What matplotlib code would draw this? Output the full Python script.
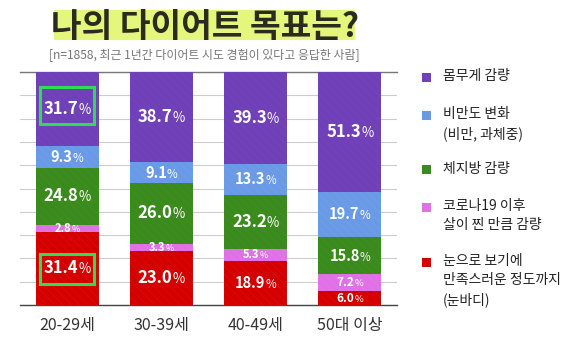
import matplotlib
matplotlib.use("Agg")
import matplotlib.pyplot as plt
import numpy as np
from matplotlib.offsetbox import TextArea, HPacker, AnnotationBbox
from matplotlib.patches import Rectangle

plt.rcParams['font.family'] = ['Noto Sans CJK KR', 'DejaVu Sans']
plt.rcParams['hatch.linewidth'] = 0.5

categories = ["20-29세", "30-39세", "40-49세", "50대 이상"]
red_vals = [31.4, 23.0, 18.9, 6.0]
pink_vals = [2.8, 3.3, 5.3, 7.2]
green_vals = [24.8, 26.0, 23.2, 15.8]
blue_vals = [9.3, 9.1, 13.3, 19.7]
purple_vals = [31.7, 38.7, 39.3, 51.3]

series = [red_vals, pink_vals, green_vals, blue_vals, purple_vals]
colors = ["#D40000", "#E070E6", "#3A8A1C", "#6A9AE6", "#7040B8"]
hatch_colors = ["#D90D0D", "#E27AE8", "#40902A", "#72A0E8", "#7646BC"]

fig = plt.figure(figsize=(5.81, 3.51), dpi=100)
ax = fig.add_axes([20/581, 1-305/351, 377/581, 233/351])

x = np.arange(len(categories))
width = 0.67
bottom = np.zeros(len(categories))
for vals, c, hc in zip(series, colors, hatch_colors):
    ax.bar(x, vals, width, bottom=bottom, color=c, edgecolor=hc,
           linewidth=0, hatch='\\\\\\\\', zorder=3)
    for xi, v, b in zip(x, vals, bottom):
        if v >= 20:
            fs = 12
        elif v >= 9:
            fs = 10.5
        elif v >= 6:
            fs = 8.5
        else:
            fs = 8
        t1 = TextArea(f"{v:.1f}", textprops=dict(color="white", fontsize=fs,
                                                 fontweight="bold"))
        t2 = TextArea("%", textprops=dict(color="white", fontsize=fs*0.8))
        pack = HPacker(children=[t1, t2], align="baseline", pad=0, sep=0)
        ab = AnnotationBbox(pack, (xi, b + v/2), frameon=False,
                            box_alignment=(0.5, 0.5), zorder=5)
        ax.add_artist(ab)
    bottom = bottom + np.array(vals)

# green highlight boxes
for (y0, y1) in [(77.8, 93.7), (9.0, 21.9)]:
    ax.add_patch(Rectangle((-0.29, y0), 0.58, y1 - y0, fill=False,
                           edgecolor="#2EDC55", linewidth=2.2, zorder=6))

ax.set_xlim(-0.5, 3.5)
ax.set_ylim(0, 100)
ax.set_yticks(np.arange(0, 101, 10))
ax.yaxis.grid(True, color="#cccccc", linewidth=0.8, zorder=0)
ax.tick_params(axis='y', left=False, labelleft=False)
ax.tick_params(axis='x', bottom=False, labelsize=11.5, labelcolor="#333333", pad=5)
ax.set_xticks(x)
ax.set_xticklabels(categories)
for s in ['left', 'right']:
    ax.spines[s].set_visible(False)
ax.spines['top'].set_color("#777777")
ax.spines['top'].set_linewidth(1.0)
ax.spines['bottom'].set_color("#444444")
ax.spines['bottom'].set_linewidth(1.0)

# title with highlight
fig.patches.append(Rectangle((54/581, 1-40/351), 301/581, 30/351,
                             transform=fig.transFigure, facecolor="#E4F77C",
                             edgecolor="none", zorder=0))
fig.text(205/581, 1-27/351, "나의 다이어트 목표는?", ha="center", va="center",
         fontsize=24, fontweight="heavy", color="#2B2B1E")
fig.text(204/581, 1-55/351, "[n=1858, 최근 1년간 다이어트 시도 경험이 있다고 응답한 사람]",
         ha="center", va="center", fontsize=8.6, color="#777777")

# legend
leg_items = [("몸무게 감량", "#7040B8", 77),
             ("비만도 변화\n(비만, 과체중)", "#6A9AE6", 115),
             ("체지방 감량", "#3A8A1C", 170),
             ("코로나19 이후\n살이 찐 만큼 감량", "#E070E6", 207),
             ("눈으로 보기에\n만족스러운 정도까지\n(눈바디)", "#D40000", 262)]
for label, c, ypx in leg_items:
    fig.patches.append(Rectangle((422/581, 1-(ypx+4.5)/351), 9/581, 9/351,
                                 transform=fig.transFigure, facecolor=c,
                                 edgecolor="none"))
    fig.text(443/581, 1-(ypx-8)/351, label, ha="left", va="top", fontsize=10,
             color="#222222", linespacing=1.45)

fig.savefig("out.png", dpi=100)
